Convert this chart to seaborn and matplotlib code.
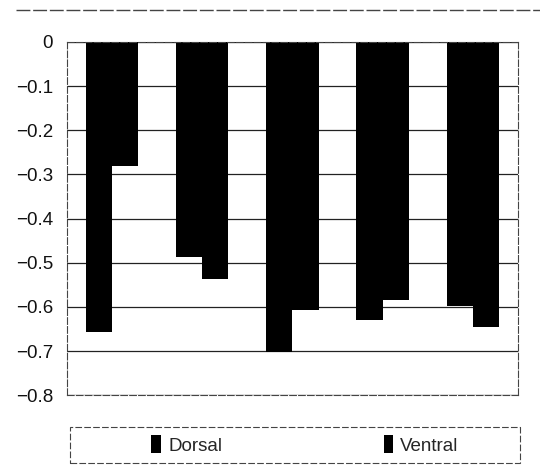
import matplotlib
matplotlib.use("Agg")
import matplotlib.pyplot as plt
import seaborn as sns
import pandas as pd
from matplotlib.patches import Patch, Rectangle
from matplotlib.lines import Line2D

categories = ["1", "2", "3", "4", "5"]
dorsal = [-0.656, -0.486, -0.702, -0.629, -0.598]
ventral = [-0.281, -0.536, -0.606, -0.585, -0.646]
series = ["Dorsal", "Ventral"]
yticks = [0, -0.1, -0.2, -0.3, -0.4, -0.5, -0.6, -0.7, -0.8]
ytick_labels = ["0", "\u22120.1", "\u22120.2", "\u22120.3", "\u22120.4",
                "\u22120.5", "\u22120.6", "\u22120.7", "\u22120.8"]

df = pd.DataFrame({
    "cat": categories * 2,
    "val": dorsal + ventral,
    "series": [series[0]] * len(categories) + [series[1]] * len(categories),
})

sns.set_theme(style="white")
FAM = ["Liberation Sans", "DejaVu Sans"]
plt.rcParams["font.family"] = FAM

fig = plt.figure(figsize=(5.4, 4.66), dpi=100)
ax = fig.add_axes([0.124, 0.152, 0.835, 0.758])

sns.barplot(data=df, x="cat", y="val", hue="series", order=categories,
            hue_order=series, palette=["#000000", "#000000"], width=0.58,
            dodge=True, saturation=1, linewidth=0, errorbar=None, legend=False, ax=ax)

ax.set_ylim(-0.8, 0)
ax.set_xlim(-0.5, 4.5)
ax.set_yticks(yticks)
ax.set_yticklabels(ytick_labels, fontsize=13.5, color="#111111")
ax.set_xticks([])
ax.set_xlabel("")
ax.set_ylabel("")
ax.tick_params(axis="y", length=0, pad=10)
for y in yticks:
    ax.axhline(y, color="#222222", lw=0.9, zorder=0)
for s in ax.spines.values():
    s.set_visible(True)
    s.set_color("#444444")
    s.set_linewidth(0.8)
    s.set_linestyle((0, (6, 2)))

# top border line of chart
fig.add_artist(Line2D([0.03, 1.0], [0.978, 0.978], transform=fig.transFigure,
                      color="#444444", lw=1.0, linestyle=(0, (10, 2))))

# legend frame
fig.add_artist(Rectangle((0.130, 0.006), 0.833, 0.078, transform=fig.transFigure,
                         fill=False, edgecolor="#444444", lw=0.8,
                         linestyle=(0, (6, 2))))

handles = [Patch(facecolor="#000000", edgecolor="none", label=s) for s in series]
leg = fig.legend(handles=handles, loc="center", bbox_to_anchor=(0.565, 0.045),
                 ncol=2, frameon=False, fontsize=13.5, handlelength=0.5,
                 handleheight=1.1, handletextpad=0.4, columnspacing=8.6,
                 borderpad=0.3)

fig.savefig("out.png", dpi=100)
